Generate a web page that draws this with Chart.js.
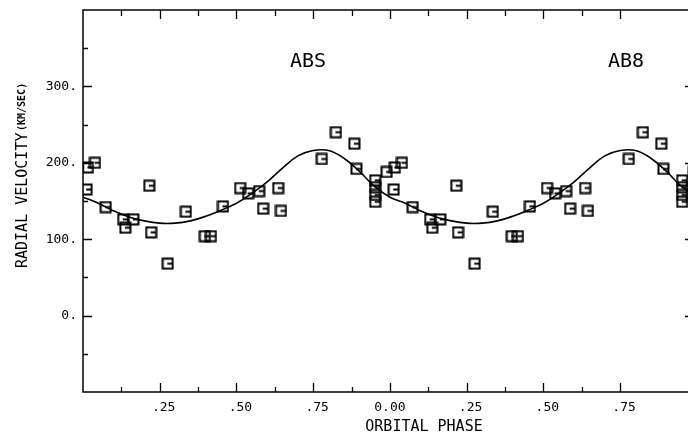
<!DOCTYPE html>
<html>
<head>
<meta charset="utf-8">
<script src="https://cdn.jsdelivr.net/npm/chart.js@4.4.0/dist/chart.umd.min.js"></script>
<style>
html, body { margin: 0; padding: 0; background: #fff; }
</style>
</head>
<body>
<canvas id="chart" width="688" height="433"></canvas>
<script>
// observations, one orbital cycle (phase, km/s)
const phase = [0.012, 0.016, 0.039, 0.074, 0.131, 0.138, 0.164, 0.216, 0.222, 0.276,
               0.335, 0.397, 0.417, 0.456, 0.512, 0.538, 0.574, 0.587, 0.636, 0.645,
               0.778, 0.824, 0.884, 0.891, 0.952, 0.952, 0.952, 0.952, 0.989];
const velocity = [165, 194, 200, 142, 126, 115, 126, 170, 109, 68,
                  136, 104, 104, 143, 167, 160, 163, 140, 167, 137,
                  205, 240, 225, 192, 177, 168, 158, 149, 188];

// fitted curve
const curvePhase = [0, 0.05, 0.10, 0.15, 0.20, 0.25, 0.30, 0.35, 0.40, 0.45, 0.50,
                    0.55, 0.60, 0.65, 0.70, 0.75, 0.80, 0.85, 0.90, 0.95, 1.00];
const curveVel = [155, 147, 137, 129, 124, 121, 121, 124, 130, 138, 147,
                  160, 175, 193, 209, 216, 216, 206, 189, 169, 155];

const starNames = ["ABS", "AB8"];
const xTitle = "ORBITAL PHASE";
const yTitle = "RADIAL VELOCITY";
const yUnit = "(KM/SEC)";

const cycles = [0, 1];
const xMax = 1.971;
const mono = "'DejaVu Sans Mono', 'Liberation Mono', monospace";

// points plotted twice, one per cycle
let pts = [];
cycles.forEach(c => {
    phase.forEach((p, i) => pts.push({x: p + c, y: velocity[i]}));
});
let curve = [];
cycles.forEach(c => {
    curvePhase.forEach((p, i) => {
        if (c > 0 && i === 0) return;
        curve.push({x: p + c, y: curveVel[i]});
    });
});

// square marker with a small bar inside
function makeMarker(){
    const m = document.createElement("canvas");
    m.width = 13; m.height = 13;
    const g = m.getContext("2d");
    g.strokeStyle = "#000";
    g.lineWidth = 2;
    g.strokeRect(1.5, 1.5, 10, 10);
    g.beginPath();
    g.moveTo(6, 6.5);
    g.lineTo(11.5, 6.5);
    g.stroke();
    return m;
}

function phaseLabel(v){
    const q = Math.round(v * 4);
    if (Math.abs(v * 4 - q) > 1e-6 || q === 0) return "";
    const p = q % 4;
    return p === 0 ? "0.00" : " ." + String(p * 25).padStart(2, "0");
}

const frame = {
    id: "frame",
    afterDatasetsDraw(chart){
        const ctx = chart.ctx;
        const a = chart.chartArea;
        const x = chart.scales.x, y = chart.scales.y;
        ctx.save();
        ctx.strokeStyle = "#000";
        ctx.lineWidth = 1.5;
        ctx.beginPath();
        ctx.moveTo(a.right + 2, a.top);
        ctx.lineTo(a.left, a.top);
        ctx.lineTo(a.left, a.bottom);
        ctx.lineTo(a.right + 2, a.bottom);
        ctx.stroke();

        ctx.lineWidth = 1.3;
        ctx.beginPath();
        x.ticks.forEach(t => {
            if (t.value <= x.min || t.value >= x.max - 0.01) return;
            const px = Math.round(x.getPixelForValue(t.value)) + 0.5;
            const major = Math.abs(t.value * 4 - Math.round(t.value * 4)) < 1e-6;
            const len = major ? 9 : 5;
            ctx.moveTo(px, a.bottom); ctx.lineTo(px, a.bottom - len);
            ctx.moveTo(px, a.top); ctx.lineTo(px, a.top + (major ? 9 : 6));
        });
        y.ticks.forEach(t => {
            if (t.value <= y.min || t.value >= y.max) return;
            const py = Math.round(y.getPixelForValue(t.value)) + 0.5;
            const major = t.value % 100 === 0;
            ctx.moveTo(a.left, py); ctx.lineTo(a.left + (major ? 9 : 5), py);
            if (major) { ctx.moveTo(a.right, py); ctx.lineTo(a.right - 3, py); }
        });
        ctx.stroke();

        ctx.fillStyle = "#000";
        ctx.textBaseline = "alphabetic";
        ctx.textAlign = "center";
        ctx.font = "20px " + mono;
        ctx.fillText(starNames[0], 308, 67);
        ctx.fillText(starNames[1], 626, 67);

        ctx.font = "15px " + mono;
        ctx.fillText(xTitle, 424, 431);

        ctx.textAlign = "left";
        ctx.save();
        ctx.translate(27, 268);
        ctx.rotate(-Math.PI / 2);
        ctx.fillText(yTitle, 0, 0);
        ctx.restore();
        ctx.save();
        ctx.translate(25, 131);
        ctx.rotate(-Math.PI / 2);
        ctx.font = "bold 10px " + mono;
        ctx.fillText(yUnit, 0, 0);
        ctx.restore();
        ctx.restore();
    }
};

let canv = document.getElementById("chart");
let latestChart = new Chart(canv, {
    type: "scatter",
    data: {
        datasets: [{
            type: "line",
            data: curve,
            borderColor: "#000",
            borderWidth: 1.6,
            pointRadius: 0,
            tension: 0.4,
            fill: false,
        }, {
            type: "scatter",
            data: pts,
            pointStyle: makeMarker(),
            pointRadius: 6,
        }],
    },
    options: {
        responsive: false,
        animation: false,
        layout: { autoPadding: false, padding: { top: 10, right: 0, left: 0, bottom: 0 } },
        plugins: { legend: { display: false }, tooltip: { enabled: false } },
        scales: {
            x: {
                type: "linear",
                min: 0,
                max: xMax,
                afterFit: s => { s.height = 41; s.paddingLeft = 0; s.paddingRight = 0; },
                grid: { display: false, drawTicks: false },
                border: { display: false },
                ticks: {
                    stepSize: 0.125,
                    autoSkip: false,
                    maxRotation: 0,
                    padding: 8,
                    color: "#000",
                    font: { family: mono, size: 13 },
                    callback: phaseLabel,
                },
            },
            y: {
                min: -100,
                max: 400,
                afterFit: s => { s.width = 83; s.paddingTop = 0; s.paddingBottom = 0; },
                grid: { display: false, drawTicks: false },
                border: { display: false },
                ticks: {
                    stepSize: 50,
                    autoSkip: false,
                    padding: 6,
                    color: "#000",
                    font: { family: mono, size: 13 },
                    callback: v => (v >= 0 && v <= 300 && v % 100 === 0) ? v + "." : "",
                },
            },
        },
    },
    plugins: [frame],
});
</script>
</body>
</html>
